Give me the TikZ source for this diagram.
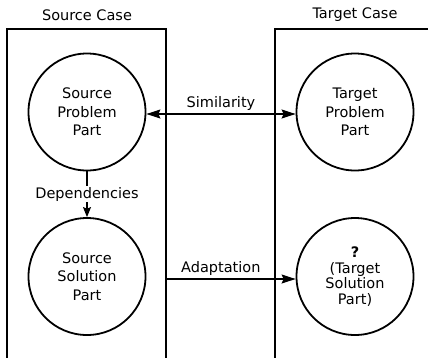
\documentclass[tikz,border=0pt]{standalone}
\usepackage{fontspec}
\setmainfont{DejaVu Sans}
\usetikzlibrary{arrows.meta,positioning}
\tikzset{
  part/.style={circle,draw,line width=1.8pt,minimum size=117pt,inner sep=0pt,
    align=center,font=\fontsize{14.5}{18.5}\selectfont},
  casebox/.style={draw,line width=1.8pt},
  caselabel/.style={font=\fontsize{14.5}{16}\selectfont},
  rel/.style={line width=1.1pt,-{Stealth[length=14pt,width=9pt,inset=2pt]}},
  dep/.style={line width=1.1pt,-{Stealth[length=10pt,width=8pt,inset=1.5pt]}},
  rellabel/.style={font=\fontsize{14.5}{16}\selectfont,above}
}
\begin{document}
\begin{tikzpicture}[x=1pt,y=-1pt]
  \useasboundingbox (0,0) rectangle (428,357);
  % the two cases
  \draw[casebox] (7,359) -- (7,29) -- (166,29) -- (166,359);
  \draw[casebox] (275,359) -- (275,29) -- (430,29);
  \node[caselabel] (srccase) at (87,15) {Source Case};
  \node[caselabel] (tgtcase) at (355,15) {Target Case};
  % parts
  \node[part] (srcprob) at (87,112) {Source\\Problem\\Part};
  \node[part] (srcsol) at (87,276.5) {Source\\Solution\\Part};
  \node[part] (tgtprob) at (355,112) {Target\\Problem\\Part};
  \node[part,font=\fontsize{14.5}{15.5}\selectfont] (tgtsol) at (355,276.5)
    {\textbf{?}\\(Target\\Solution\\Part)};
  \coordinate (srcedge) at (166,279);
  % relations
  \draw[rel,{Stealth[length=14pt,width=9pt,inset=2pt]}-{Stealth[length=14pt,width=9pt,inset=2pt]}]
    (srcprob.east |- 0,114) -- node[rellabel] (simlabel) {Similarity} (tgtprob.west |- 0,114);
  \draw[rel] (srcedge) -- node[rellabel,xshift=-10pt] (adaptlabel) {Adaptation} (tgtsol.west |- srcedge);
  \draw[dep] (srcprob) -- node[fill=white,inner sep=1pt,font=\fontsize{14.5}{16}\selectfont] (deplabel) {Dependencies} (srcsol);
\end{tikzpicture}
\end{document}
